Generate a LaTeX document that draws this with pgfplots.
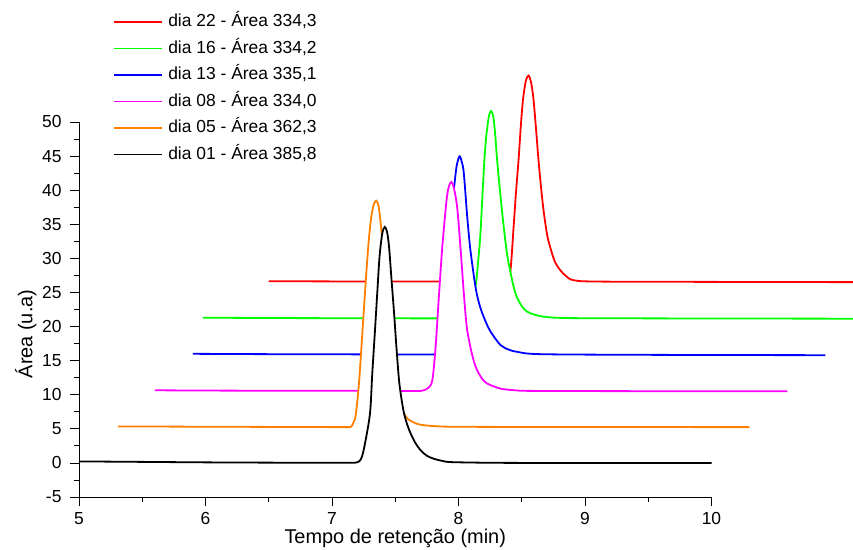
\documentclass[border=0pt]{standalone}
\usepackage{fontspec}
\setmainfont{Liberation Sans}
\usepackage{pgfplots}
\usepackage{pgfplotstable}
\pgfplotsset{compat=1.18}

\definecolor{cred}{RGB}{255,0,0}
\definecolor{cgreen}{RGB}{0,255,0}
\definecolor{cblue}{RGB}{0,0,255}
\definecolor{cmag}{RGB}{255,0,255}
\definecolor{corange}{RGB}{255,128,0}

\pgfplotstableread{
x y
6.5 26.65
7.0 26.62
7.6 26.6
8.2 26.6
8.3 26.7
8.35 27.0
8.385 27.5
8.41 28.06
8.436 34.7
8.455 39.8
8.475 44.5
8.493 49.5
8.51 53.3
8.532 56.0
8.554 56.8
8.575 55.7
8.593 53.3
8.612 49.2
8.632 44.5
8.652 40.5
8.672 37.1
8.70 33.5
8.724 31.7
8.76 29.6
8.803 28.3
8.85 27.4
8.908 26.8
9.09 26.6
10.0 26.55
11.5 26.5
}\tred

\pgfplotstableread{
x y
5.98 21.3
6.5 21.25
7.2 21.22
7.9 21.2
8.0 21.3
8.05 22.0
8.09 23.5
8.134 25.85
8.155 29.5
8.173 33.5
8.19 39.5
8.205 44.5
8.22 48.0
8.24 50.8
8.257 51.6
8.275 50.8
8.29 48.2
8.305 44.5
8.33 39.5
8.357 34.7
8.385 30.5
8.41 28.06
8.435 25.9
8.462 24.3
8.50 23.0
8.541 22.2
8.60 21.75
8.672 21.45
8.85 21.25
9.5 21.2
11.2 21.15
}\tgreen

\pgfplotstableread{
x y
5.9 16.0
6.5 15.95
7.2 15.92
7.78 15.9
7.80 15.92
7.819 16.05
7.85 18.0
7.88 23.0
7.91 30.0
7.94 36.0
7.963 40.0
7.985 43.5
8.008 44.97
8.025 44.2
8.042 42.5
8.069 36.1
8.094 31.25
8.134 25.85
8.16 23.6
8.187 22.0
8.22 20.5
8.252 19.3
8.331 17.3
8.40 16.6
8.462 16.3
8.646 15.95
9.5 15.85
10.9 15.8
}\tblue

\pgfplotstableread{
x y
5.6 10.65
6.2 10.6
7.0 10.58
7.6 10.55
7.70 10.55
7.727 10.66
7.76 11.0
7.793 12.1
7.819 17.0
7.845 24.4
7.872 31.7
7.906 38.6
7.925 40.6
7.945 41.2
7.965 40.2
7.99 37.4
8.016 31.5
8.042 24.9
8.065 20.0
8.094 17.0
8.12 15.0
8.147 13.6
8.185 12.4
8.226 11.65
8.331 10.9
8.45 10.65
8.59 10.56
9.5 10.52
10.6 10.5
}\tmag

\pgfplotstableread{
x y
5.31 5.35
5.8 5.32
6.5 5.28
7.0 5.25
7.12 5.25
7.15 5.3
7.17 5.9
7.189 7.2
7.215 12.1
7.245 20.5
7.27 27.5
7.29 32.5
7.31 36.0
7.33 37.9
7.35 38.45
7.368 37.7
7.384 35.3
7.40 32.0
7.43 24.5
7.46 17.0
7.50 11.0
7.53 8.7
7.557 7.7
7.596 6.5
7.65 5.9
7.701 5.6
7.806 5.4
8.0 5.3
9.0 5.26
10.3 5.25
}\torange

\pgfplotstableread{
x y
5.0 0.22
5.5 0.15
6.0 0.08
6.5 0.04
7.0 0.02
7.15 0.02
7.202 0.1
7.23 0.6
7.255 2.3
7.30 7.2
7.318 13.0
7.34 19.5
7.358 25.0
7.376 30.3
7.397 33.6
7.417 34.6
7.435 33.9
7.451 31.7
7.47 27.0
7.491 21.9
7.51 16.8
7.530 12.1
7.55 9.3
7.570 7.2
7.595 5.6
7.622 4.3
7.66 2.9
7.701 1.84
7.75 1.05
7.806 0.6
7.87 0.3
7.94 0.12
8.2 0.03
8.5 0.0
9.0 0.0
10.0 0.0
}\tblack

\begin{document}
\begin{tikzpicture}
\begin{axis}[
  name=ax,
  width=632.5bp, height=375bp, scale only axis,
  xmin=5, xmax=10, ymin=-5, ymax=50,
  clip=false,
  axis on top,
  axis lines=left,
  x axis line style={-},
  y axis line style={-},
  xtick={5,6,7,8,9,10},
  ytick={-5,0,5,10,15,20,25,30,35,40,45,50},
  minor x tick num=1,
  minor y tick num=1,
  tick align=outside,
  major tick length=9bp,
  minor tick length=5bp,
  tick style={black, line width=0.8bp},
  axis line style={line width=0.8bp},
  /pgf/number format/assume math mode=true,
  tick label style={font=\fontsize{17.5}{20}\selectfont},
  xticklabel style={yshift=-3bp},
  yticklabel style={xshift=-5bp},
  xlabel={Tempo de retenção (min)},
  ylabel={Área (u.a)},
  label style={font=\fontsize{20}{23}\selectfont},
  xlabel style={at={(axis description cs:0.5,0)}, anchor=center, yshift=-41bp},
  ylabel style={at={(axis description cs:-0.0841,0.4347)}, anchor=center},
  legend style={at={(axis description cs:0.0542,1.2885)}, anchor=north west,
    draw=none, fill=none, inner sep=0pt, row sep=10.5bp, column sep=5bp,
    font=\fontsize{17.5}{20}\selectfont,
    nodes={inner sep=0pt, text height=12.5bp, text depth=3.5bp, anchor=base west}},
  legend cell align=left,
  legend image code/.code={\draw[#1, line width=1.8bp] (0bp,4.5bp) -- (48bp,4.5bp);},
]
\addplot[draw=none, fill=white, forget plot, smooth, tension=0.5] table {\tred};
\addplot[cred, line width=1.8bp, smooth, tension=0.5] table {\tred};
\addlegendentry{dia 22 - Área 334,3}
\addplot[draw=none, fill=white, forget plot, smooth, tension=0.5] table {\tgreen};
\addplot[cgreen, line width=1.8bp, smooth, tension=0.5] table {\tgreen};
\addlegendentry{dia 16 - Área 334,2}
\addplot[draw=none, fill=white, forget plot, smooth, tension=0.5] table {\tblue};
\addplot[cblue, line width=1.8bp, smooth, tension=0.5] table {\tblue};
\addlegendentry{dia 13 - Área 335,1}
\addplot[draw=none, fill=white, forget plot, smooth, tension=0.5] table {\tmag};
\addplot[cmag, line width=1.8bp, smooth, tension=0.5] table {\tmag};
\addlegendentry{dia 08 - Área 334,0}
\addplot[draw=none, fill=white, forget plot, smooth, tension=0.5] table {\torange};
\addplot[corange, line width=1.8bp, smooth, tension=0.5] table {\torange};
\addlegendentry{dia 05 - Área 362,3}
\addplot[draw=none, fill=white, forget plot, smooth, tension=0.5] table {\tblack};
\addplot[black, line width=1.8bp, smooth, tension=0.5] table {\tblack};
\addlegendentry{dia 01 - Área 385,8}
\end{axis}
\pgfresetboundingbox
\useasboundingbox ([shift={(-79bp,-53bp)}]ax.south west) rectangle ++(853bp,550bp);
\end{tikzpicture}
\end{document}
